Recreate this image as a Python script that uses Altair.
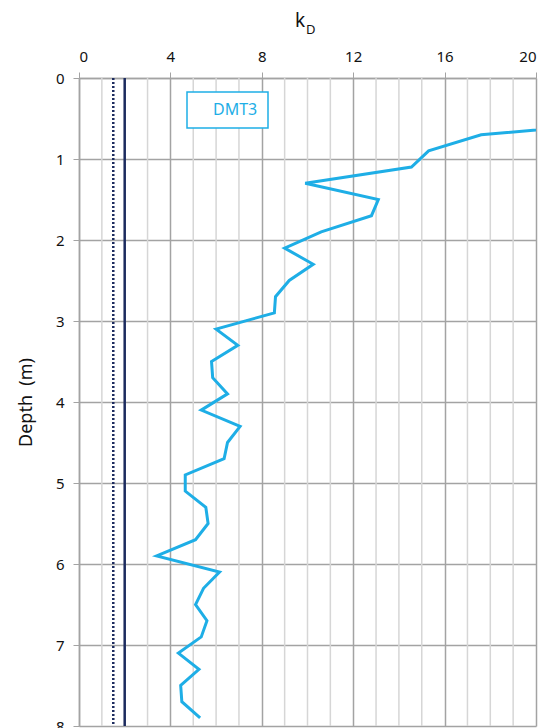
import altair as alt
import pandas as pd

# DMT3 sounding: horizontal stress index kD against depth
depth_m = [0.5, 0.7, 0.9, 1.1, 1.3, 1.5, 1.7, 1.9, 2.1, 2.3, 2.5, 2.7, 2.9,
           3.1, 3.3, 3.5, 3.7, 3.9, 4.1, 4.3, 4.5, 4.7, 4.9, 5.1, 5.3, 5.5,
           5.7, 5.9, 6.1, 6.3, 6.5, 6.7, 6.9, 7.1, 7.3, 7.5, 7.7, 7.9]
kd_values = [26.0, 17.6, 15.3, 14.55, 9.9, 13.1, 12.8, 10.6, 9.0, 10.25, 9.2,
             8.6, 8.55, 6.0, 6.95, 5.8, 5.85, 6.5, 5.35, 7.05, 6.5, 6.35, 4.65,
             4.65, 5.55, 5.65, 5.1, 3.4, 6.15, 5.45, 5.1, 5.6, 5.35, 4.35, 5.25,
             4.45, 4.5, 5.3]
series_name = "DMT3"

# reference kD levels
ref_dotted = [1.5]
ref_solid = [2.0]

x_major_ticks = [0, 4, 8, 12, 16, 20]
x_minor_ticks = [1, 2, 3, 5, 6, 7, 9, 10, 11, 13, 14, 15, 17, 18, 19]
y_ticks = [0, 1, 2, 3, 4, 5, 6, 7, 8]

FONT = "Noto Sans"
CYAN = "#1eaee6"
NAVY = "#1c2b5e"
MAJOR = "#a3a3a3"
MINOR = "#d6d6d6"

W, H = 457, 648

df = pd.DataFrame({"kD": kd_values, "depth": depth_m, "series": series_name})

x_scale = alt.Scale(domain=[0, 20], nice=False, zero=False)
y_scale = alt.Scale(domain=[0, 8], reverse=True, nice=False)

minor = alt.Chart(pd.DataFrame({"v": x_minor_ticks})).mark_rule(
    color=MINOR, strokeWidth=1.5
).encode(x=alt.X("v:Q", scale=x_scale))

dotted = alt.Chart(pd.DataFrame({"v": ref_dotted})).mark_rule(
    color=NAVY, strokeWidth=2.5, strokeDash=[2, 2]
).encode(x=alt.X("v:Q", scale=x_scale))

solid = alt.Chart(pd.DataFrame({"v": ref_solid})).mark_rule(
    color=NAVY, strokeWidth=2.5
).encode(x=alt.X("v:Q", scale=x_scale))

line = alt.Chart(df).mark_line(strokeWidth=3, clip=True).encode(
    x=alt.X(
        "kD:Q",
        scale=x_scale,
        axis=alt.Axis(
            orient="top", values=x_major_ticks, title=None, grid=True,
            gridColor=MAJOR, gridWidth=1.5, domainColor=MAJOR, domainWidth=1.5,
            tickColor=MAJOR, tickSize=6, labelPadding=8,
        ),
    ),
    y=alt.Y(
        "depth:Q",
        scale=y_scale,
        axis=alt.Axis(
            values=y_ticks, title="Depth\u00a0\u00a0(m)", grid=True,
            gridColor=MAJOR, gridWidth=1.5, domainColor=MAJOR, domainWidth=1.5,
            tickColor=MAJOR, tickSize=6, labelPadding=9, titlePadding=20,
            titleFontSize=18, titleFontWeight="normal", titleColor="#111",
        ),
    ),
    order="depth:Q",
    color=alt.Color(
        "series:N",
        scale=alt.Scale(domain=[series_name], range=[CYAN]),
        legend=alt.Legend(
            title=None, orient="none", legendX=108, legendY=14,
            labelFontSize=16, labelFont=FONT, labelColor=CYAN,
            labelExpr="'\u00a0\u00a0' + datum.label + '\u00a0\u00a0'",
        ),
    ),
)

title_k = alt.Chart(pd.DataFrame({"t": ["k"]})).mark_text(
    font=FONT, fontSize=19, align="left", baseline="alphabetic", color="#111"
).encode(x=alt.value(216), y=alt.value(-51), text="t:N")

title_d = alt.Chart(pd.DataFrame({"t": ["D"]})).mark_text(
    font=FONT, fontSize=13, align="left", baseline="alphabetic", color="#111"
).encode(x=alt.value(227), y=alt.value(-44), text="t:N")

chart = alt.layer(minor, dotted, solid, line, title_k, title_d).properties(
    width=W, height=H,
    autosize=alt.AutoSizeParams(type="none"),
    padding={"left": 79, "top": 78, "right": 18, "bottom": 2},
).configure_view(stroke=None).configure_axis(
    labelFont=FONT, labelFontSize=15, labelColor="#111", titleFont=FONT,
).configure_legend(
    strokeColor=CYAN, strokeWidth=1.5, fillColor="white", padding=10,
    labelOffset=0, symbolSize=0, symbolStrokeWidth=0, symbolOpacity=0,
    cornerRadius=0,
)

chart.save("out.html", embed_options={"renderer": "svg", "actions": False})
